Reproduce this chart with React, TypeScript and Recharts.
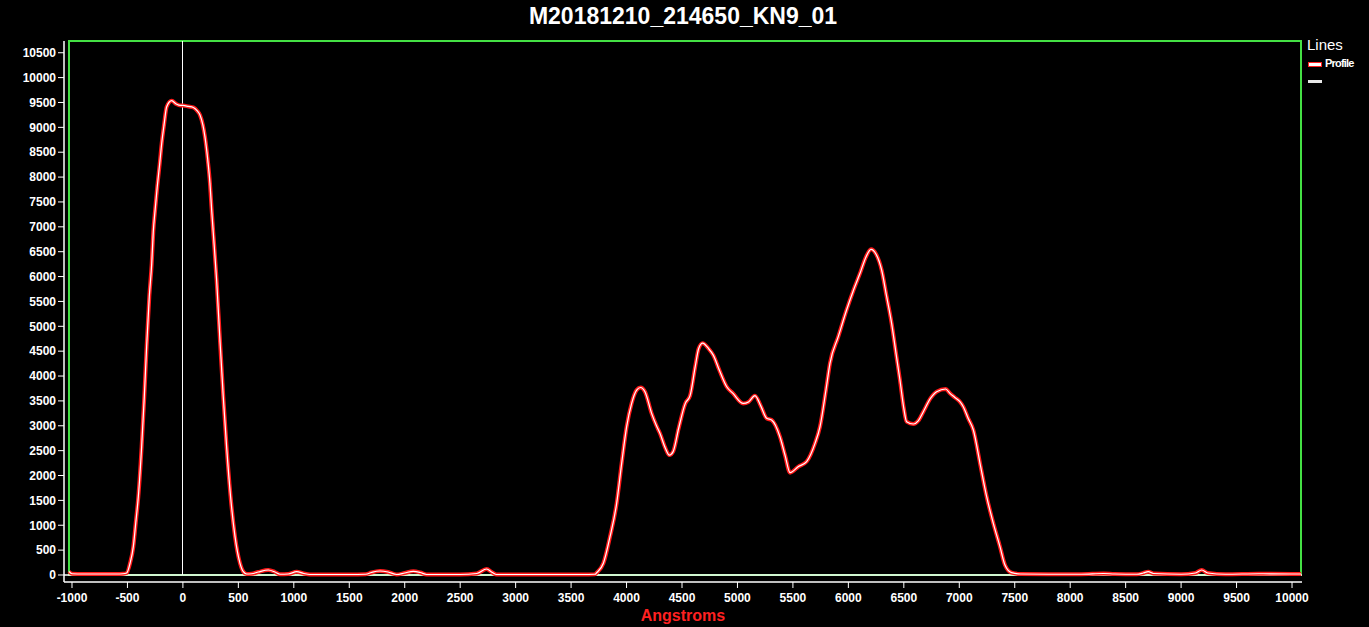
import { LineChart, Line, XAxis, YAxis, ReferenceLine, ReferenceArea } from 'recharts';

// Profile trace (x in Angstroms, y in counts)
const angstroms = [
  -1027, -1000, -900, -800, -700, -600, -540, -507, -475, -447, -425, -402, -372, -348, -327, -303,
  -281, -267, -250, -231, -210, -191, -170, -146, -101, -60, -20, 0, 50, 94, 130, 154, 180, 199, 224,
  244, 259, 274, 304, 334, 364, 394, 430, 470, 515, 545, 575, 620, 680, 770, 830, 875, 950, 1026,
  1090, 1146, 1300, 1500, 1650, 1700, 1777, 1850, 1927, 2000, 2077, 2140, 2197, 2300, 2500, 2650,
  2738, 2790, 2828, 3000, 3300, 3600, 3716, 3731, 3791, 3851, 3911, 3956, 4001, 4046, 4091, 4127,
  4166, 4226, 4270, 4301, 4350, 4386, 4420, 4470, 4530, 4572, 4620, 4650, 4686, 4740, 4782, 4840,
  4902, 4960, 5052, 5100, 5158, 5210, 5263, 5308, 5383, 5430, 5474, 5550, 5624, 5700, 5744, 5800,
  5834, 5909, 5984, 6050, 6105, 6160, 6204, 6250, 6300, 6345, 6390, 6430, 6465, 6500, 6525, 6586,
  6630, 6676, 6740, 6796, 6877, 6916, 6960, 7006, 7036, 7080, 7127, 7187, 7247, 7307, 7367, 7412,
  7472, 7550, 7800, 8100, 8300, 8400, 8600, 8660, 8704, 8750, 9000, 9130, 9186, 9240, 9400, 9700,
  10000, 10082,
];
const profile = [
  70, 25, 20, 20, 20, 20, 25, 40, 250, 570, 1050, 1570, 2580, 3585, 4590, 5595,
  6265, 6900, 7350, 7810, 8250, 8680, 9050, 9415, 9536, 9470, 9440, 9440, 9420, 9400, 9330, 9250, 9050, 8810, 8350,
  7875, 7350, 6880, 5930, 4725, 3585, 2580, 1574, 770, 235, 66, 20, 25, 60, 100, 60, 15, 20, 67,
  30, 10, 10, 10, 15, 50, 80, 60, 10, 40, 74, 50, 10, 10, 10, 30,
  120, 50, 10, 10, 10, 10, 15, 46, 235, 770, 1441, 2245, 2982, 3452, 3719, 3770,
  3685, 3250, 3000, 2850, 2550, 2410, 2480, 2950, 3450, 3600, 4200, 4550, 4660, 4550, 4420, 4100,
  3790, 3650, 3450, 3480, 3605, 3400, 3150, 3116, 2780, 2400, 2057, 2180, 2280, 2650, 2980, 3750,
  4256, 4791, 5328, 5750, 6065, 6400, 6548, 6450, 6132, 5600, 5060, 4450, 3920, 3350, 3082, 3036,
  3100, 3283, 3550, 3685, 3739, 3652, 3570, 3484, 3384, 3150, 2915, 2245, 1574, 1039, 569, 201,
  46, 20, 15, 15, 30, 20, 15, 40, 67, 30, 15, 40, 100, 40, 15, 25,
  20, 20,
];

const xTicks = [
  -1000, -500, 0, 500, 1000, 1500, 2000, 2500, 3000, 3500, 4000, 4500, 5000,
  5500, 6000, 6500, 7000, 7500, 8000, 8500, 9000, 9500, 10000,
];
const yTicks = [
  0, 500, 1000, 1500, 2000, 2500, 3000, 3500, 4000, 4500, 5000,
  5500, 6000, 6500, 7000, 7500, 8000, 8500, 9000, 9500, 10000, 10500,
];

const data = angstroms.map((x, i) => ({ x, profile: profile[i] }));

const FONT = '"Liberation Sans", Arial, sans-serif';
const tickStyle = { fill: '#ffffff', fontSize: 12, fontWeight: 700, fontFamily: FONT };

// legend box on the right ("Lines" with the Profile entry and an unnamed white one)
function LinesLegend() {
  return (
    <div style={{ position: 'absolute', left: 1307, top: 36, width: 62, height: 60, fontFamily: FONT, color: '#fff' }}>
      <div style={{ position: 'absolute', left: 0, top: 0, fontSize: 15 }}>Lines</div>
      <div style={{ position: 'absolute', left: 1, top: 26, width: 14, height: 5, background: '#fff', border: '1px solid #ff2020', boxSizing: 'border-box' }} />
      <div style={{ position: 'absolute', left: 18, top: 21, fontSize: 11, fontWeight: 700, letterSpacing: -0.8 }}>Profile</div>
      <div style={{ position: 'absolute', left: 1, top: 44, width: 14, height: 3, background: '#e8e8e8' }} />
    </div>
  );
}

export default function App() {
  return (
    <div style={{ position: 'absolute', left: 0, top: 0, width: 1369, height: 627, background: '#000', overflow: 'hidden' }}>
      <div
        style={{
          position: 'absolute', left: 0, top: 3, width: 1366, textAlign: 'center',
          color: '#fff', fontFamily: FONT, fontWeight: 700, fontSize: 23,
        }}
      >
        M20181210_214650_KN9_01
      </div>
      <LineChart
        width={1369}
        height={627}
        data={data}
        margin={{ top: 41, right: 67, left: 0, bottom: 0 }}
        style={{ position: 'absolute', left: 0, top: 0 }}
      >
        <ReferenceArea
          x1={-1027} x2={10081} y1={0} y2={10736}
          stroke="#44e044" strokeWidth={1.5} fill="none" fillOpacity={0}
          shapeRendering="crispEdges"
        />
        <XAxis
          dataKey="x"
          type="number"
          domain={[-1072, 10090]}
          allowDataOverflow
          ticks={xTicks}
          interval={0}
          height={45}
          tickSize={6}
          tickMargin={5}
          stroke="#ffffff"
          tick={tickStyle}
          tickLine={{ stroke: '#ffffff' }}
          axisLine={{ stroke: '#ffffff', strokeWidth: 1.5 }}
          label={{ value: 'Angstroms', position: 'insideBottom', offset: 6, fill: '#ff2020', fontSize: 16, fontWeight: 700, fontFamily: FONT }}
        />
        <YAxis
          type="number"
          domain={[-141, 10736]}
          allowDataOverflow
          ticks={yTicks}
          interval={0}
          width={64}
          tickSize={6}
          tickMargin={2}
          stroke="#ffffff"
          tick={tickStyle}
          tickLine={{ stroke: '#ffffff' }}
          axisLine={{ stroke: '#ffffff', strokeWidth: 1.5 }}
        />
        <ReferenceLine y={0} stroke="#ffffff" strokeWidth={1.5} />
        <ReferenceLine
          segment={[{ x: 0, y: 0 }, { x: 0, y: 10736 }]}
          stroke="#ffffff" strokeWidth={1} shapeRendering="crispEdges"
        />
        <Line
          dataKey="profile"
          type="monotone"
          stroke="#ff1a1a"
          strokeWidth={4}
          dot={false}
          isAnimationActive={false}
        />
        <Line
          dataKey="profile"
          type="monotone"
          stroke="#ffffff"
          strokeWidth={1.2}
          dot={false}
          isAnimationActive={false}
        />
      </LineChart>
      <LinesLegend />
    </div>
  );
}
